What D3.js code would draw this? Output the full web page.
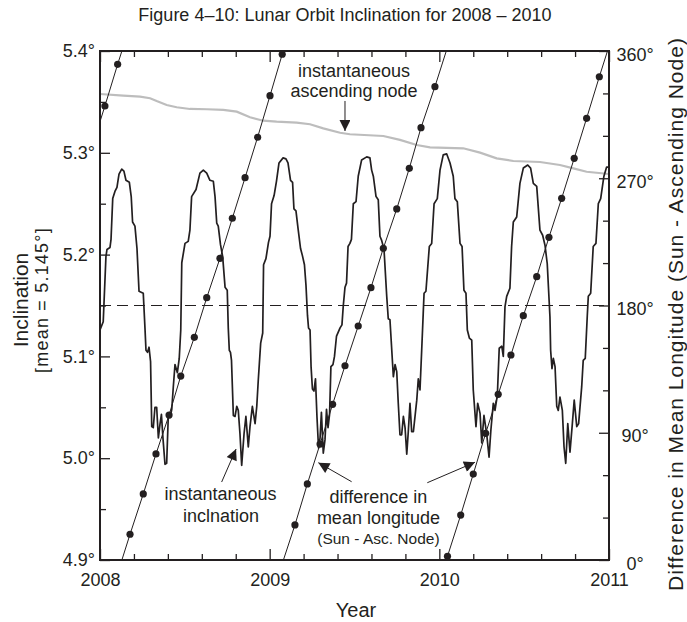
<!DOCTYPE html>
<html>
<head>
<meta charset="utf-8">
<script src="https://cdn.jsdelivr.net/npm/d3@7"></script>
<style>
  body { margin: 0; background: #fff; }
  svg { display: block; font-family: "Liberation Sans", Arial, Helvetica, sans-serif; }
  text { fill: #231f20; }
</style>
</head>
<body>
<svg id="chart" width="687" height="622"></svg>
<script>
// values
const years = [2008, 2009, 2010, 2011];
const inclTicks = [4.9, 5.0, 5.1, 5.2, 5.3, 5.4];
const degTicks = [0, 90, 180, 270, 360];
const meanIncl = 5.15;

// instantaneous inclination [year, deg]
const incl2008 = [
  [2008.000,5.126],[2008.019,5.134],[2008.035,5.198],[2008.041,5.205],[2008.059,5.207],[2008.065,5.215],
  [2008.075,5.255],[2008.088,5.262],[2008.100,5.266],[2008.112,5.279],[2008.128,5.284],[2008.141,5.282],
  [2008.153,5.273],[2008.173,5.271],[2008.184,5.257],[2008.192,5.232],[2008.206,5.228],[2008.218,5.206],
  [2008.230,5.164],[2008.255,5.162],[2008.265,5.128],[2008.271,5.106],[2008.280,5.104],[2008.289,5.109],
  [2008.298,5.095],[2008.305,5.031],[2008.314,5.030],[2008.324,5.050],[2008.334,5.050],[2008.344,5.020],
  [2008.354,5.034],[2008.362,5.043],[2008.371,5.020],[2008.383,4.994],[2008.393,4.995],[2008.403,5.044],
  [2008.413,5.040],[2008.423,5.048],[2008.432,5.070],[2008.442,5.092],[2008.456,5.084],[2008.467,5.098],
  [2008.476,5.126],[2008.482,5.192],[2008.501,5.211],[2008.520,5.213],[2008.530,5.224],[2008.540,5.257],
  [2008.566,5.264],[2008.589,5.280],[2008.609,5.283],[2008.629,5.280],[2008.648,5.273],[2008.668,5.272],
  [2008.678,5.257],[2008.688,5.231],[2008.697,5.228],[2008.710,5.210],[2008.723,5.198],[2008.737,5.168],
  [2008.750,5.165],[2008.756,5.128],[2008.762,5.106],[2008.769,5.104],[2008.775,5.096],[2008.786,5.042],
  [2008.796,5.041],[2008.806,5.051],[2008.815,5.047],[2008.825,5.024],[2008.835,4.993],[2008.849,5.024],
  [2008.860,5.041],[2008.874,5.011],[2008.884,5.031],[2008.898,5.051],[2008.914,5.034],[2008.924,5.051],
  [2008.933,5.077],[2008.947,5.113],[2008.959,5.123],[2008.964,5.190],[2008.978,5.196],[2008.993,5.212]
];
const incl2009 = [
  [2009.002,5.218],[2009.011,5.250],[2009.026,5.258],[2009.040,5.272],[2009.055,5.290],[2009.079,5.295],
  [2009.096,5.294],[2009.108,5.290],[2009.123,5.273],[2009.135,5.271],[2009.143,5.245],[2009.155,5.243],
  [2009.167,5.226],[2009.182,5.206],[2009.193,5.199],[2009.205,5.190],[2009.214,5.170],[2009.223,5.140],
  [2009.229,5.128],[2009.238,5.126],[2009.244,5.090],[2009.252,5.068],[2009.261,5.066],[2009.270,5.078],
  [2009.279,5.040],[2009.288,5.010],[2009.297,5.020],[2009.305,5.045],[2009.316,5.005],[2009.326,5.018],
  [2009.335,5.048],[2009.344,5.030],[2009.353,5.043],[2009.361,5.090],[2009.373,5.092],[2009.382,5.100],
  [2009.394,5.120],[2009.415,5.128],[2009.426,5.131],[2009.434,5.150],[2009.444,5.168],[2009.453,5.172],
  [2009.462,5.208],[2009.473,5.211],[2009.482,5.215],[2009.493,5.250],[2009.509,5.252],[2009.522,5.277],
  [2009.542,5.293],[2009.572,5.296],[2009.591,5.295],[2009.601,5.283],[2009.611,5.277],[2009.627,5.257],
  [2009.640,5.254],[2009.650,5.218],[2009.660,5.214],[2009.674,5.205],[2009.690,5.159],[2009.699,5.137],
  [2009.709,5.136],[2009.729,5.080],[2009.739,5.092],[2009.749,5.085],[2009.758,5.054],[2009.768,5.023],
  [2009.778,5.023],[2009.788,5.041],[2009.798,5.030],[2009.808,5.004],[2009.817,5.026],[2009.827,5.054],
  [2009.837,5.026],[2009.847,5.026],[2009.867,5.057],[2009.876,5.078],[2009.886,5.067],[2009.896,5.106],
  [2009.905,5.142],[2009.910,5.162],[2009.921,5.164],[2009.941,5.208],[2009.955,5.211],[2009.969,5.250],
  [2009.988,5.255]
];
const incl2010 = [
  [2010.004,5.283],[2010.023,5.298],[2010.043,5.299],[2010.063,5.290],[2010.082,5.277],[2010.092,5.255],
  [2010.106,5.252],[2010.122,5.211],[2010.134,5.208],[2010.145,5.165],[2010.157,5.162],[2010.165,5.126],
  [2010.177,5.118],[2010.191,5.116],[2010.200,5.067],[2010.216,5.031],[2010.226,5.054],[2010.240,5.044],
  [2010.250,5.015],[2010.263,5.042],[2010.279,5.024],[2010.293,5.001],[2010.304,5.028],[2010.318,5.054],
  [2010.328,5.047],[2010.342,5.062],[2010.353,5.108],[2010.368,5.110],[2010.377,5.100],[2010.387,5.149],
  [2010.397,5.159],[2010.416,5.167],[2010.426,5.208],[2010.436,5.232],[2010.456,5.237],[2010.475,5.270],
  [2010.495,5.285],[2010.521,5.288],[2010.538,5.285],[2010.554,5.270],[2010.574,5.267],[2010.593,5.224],
  [2010.609,5.219],[2010.623,5.209],[2010.636,5.191],[2010.652,5.139],[2010.656,5.106],[2010.664,5.088],
  [2010.672,5.098],[2010.682,5.090],[2010.692,5.051],[2010.701,5.047],[2010.711,5.060],[2010.725,5.047],
  [2010.735,5.011],[2010.745,4.995],[2010.757,5.034],[2010.770,5.006],[2010.784,5.034],[2010.795,5.057],
  [2010.810,5.031],[2010.821,5.034],[2010.839,5.070],[2010.848,5.096],[2010.860,5.098],[2010.872,5.140],
  [2010.878,5.159],[2010.892,5.162],[2010.907,5.208],[2010.923,5.211],[2010.937,5.250],[2010.951,5.255],
  [2010.970,5.277],[2010.986,5.286],[2011.000,5.286]
];

// instantaneous ascending node, right axis [year, deg]
const nodeLon = [
  [2008.000,329.6],[2008.137,328.4],[2008.236,327.7],[2008.295,326.6],[2008.334,324.6],[2008.393,321.8],
  [2008.452,320.2],[2008.530,319.0],[2008.629,318.8],[2008.727,318.3],[2008.806,317.1],[2008.884,313.1],
  [2008.962,310.7],[2009.041,310.0],[2009.159,309.3],[2009.238,308.2],[2009.316,305.3],[2009.415,302.2],
  [2009.473,301.1],[2009.670,299.9],[2009.768,297.1],[2009.867,293.5],[2009.945,291.9],[2010.141,291.2],
  [2010.240,288.1],[2010.338,284.1],[2010.436,282.2],[2010.593,281.5],[2010.711,279.4],[2010.790,277.0],
  [2010.868,274.6],[2011.000,273.0]
];

// difference in mean longitude (Sun - node), dots [year, deg]
const diffStart = [2008.000, 310.1];
const wrapYears = [2008.129, 2009.081, 2010.041, 2010.991]; // where it passes 360 -> 0
const dotsA = [[2008.029,321.1],[2008.104,350.6]];
const dotsB = [[2008.177,18.2],[2008.255,46.7],[2008.330,75.0],[2008.407,102.5],[2008.476,130.1],[2008.556,157.5],
  [2008.629,185.5],[2008.707,213.4],[2008.780,241.7],[2008.855,270.4],[2008.929,299.0],[2009.002,328.4],[2009.074,357.7]];
const dotsC = [[2009.149,24.8],[2009.222,53.8],[2009.297,82.0],[2009.371,110.1],[2009.444,137.4],[2009.522,165.5],
  [2009.597,192.6],[2009.670,220.5],[2009.749,248.3],[2009.823,277.0],[2009.892,305.8],[2009.974,334.8]];
const dotsD = [[2010.048,2.6],[2010.126,31.8],[2010.200,60.8],[2010.273,89.6],[2010.347,117.2],[2010.422,145.0],
  [2010.495,172.8],[2010.574,200.4],[2010.646,228.2],[2010.721,255.8],[2010.795,284.1],[2010.868,312.4],[2010.943,341.8]];

// annotation text [year, inclination, text, size] and arrows [from, to]
const noteLines = [
  [2009.497, 5.3745, "instantaneous", 18],
  [2009.497, 5.3548, "ascending node", 18],
  [2008.710, 4.9590, "instantaneous", 18],
  [2008.713, 4.9373, "inclnation", 18],
  [2009.641, 4.9560, "difference in", 18],
  [2009.641, 4.9354, "mean longitude", 18],
  [2009.641, 4.9157, "(Sun - Asc. Node)", 15.5]
];
const noteArrows = [
  [[2009.444, 5.3509], [2009.444, 5.3214]],
  [[2008.717, 4.9766], [2008.802, 5.0090]],
  [[2009.483, 4.9769], [2009.287, 4.9956]],
  [[2009.929, 4.9759], [2010.210, 4.9960]]
];

const ink = "#231f20";
const svg = d3.select("#chart");

const x = d3.scaleLinear().domain([2008, 2011]).range([100, 609]);
const yL = d3.scaleLinear().domain([4.9, 5.4]).range([560, 51]);
const yR = d3.scaleLinear().domain([0, 360]).range([560, 51]);

svg.append("defs").append("marker")
    .attr("id", "head")
    .attr("viewBox", "0 0 10 10")
    .attr("refX", 10).attr("refY", 5)
    .attr("markerWidth", 14).attr("markerHeight", 11)
    .attr("markerUnits", "userSpaceOnUse")
    .attr("orient", "auto")
  .append("path")
    .attr("d", "M0,0L10,5L0,10Z")
    .attr("fill", ink);

// node line (grey)
const lineR = d3.line().x(d => x(d[0])).y(d => yR(d[1]));
svg.append("path")
    .datum(nodeLon)
    .attr("d", lineR)
    .attr("fill", "none")
    .attr("stroke", "#bdbdbd")
    .attr("stroke-width", 2.2);

// mean inclination
svg.append("line")
    .attr("x1", x(2008)).attr("x2", x(2011))
    .attr("y1", yL(meanIncl)).attr("y2", yL(meanIncl))
    .attr("stroke", ink)
    .attr("stroke-width", 1.1)
    .attr("stroke-dasharray", "11,6");

// inclination
const lineL = d3.line().x(d => x(d[0])).y(d => yL(d[1]));
svg.append("path")
    .datum(incl2008.concat(incl2009, incl2010))
    .attr("d", lineL)
    .attr("fill", "none")
    .attr("stroke", ink)
    .attr("stroke-width", 1.7)
    .attr("stroke-linejoin", "round");

// difference runs
const runs = [
  [diffStart].concat(dotsA, [[wrapYears[0], 360]]),
  [[wrapYears[0], 0]].concat(dotsB, [[wrapYears[1], 360]]),
  [[wrapYears[1], 0]].concat(dotsC, [[wrapYears[2], 360]]),
  [[wrapYears[2], 0]].concat(dotsD, [[wrapYears[3], 360]])
];
svg.selectAll(".run")
  .data(runs)
  .enter().append("path")
    .attr("class", "run")
    .attr("d", lineR)
    .attr("fill", "none")
    .attr("stroke", ink)
    .attr("stroke-width", 1);

svg.selectAll(".dot")
  .data(dotsA.concat(dotsB, dotsC, dotsD))
  .enter().append("circle")
    .attr("class", "dot")
    .attr("cx", d => x(d[0]))
    .attr("cy", d => yR(d[1]))
    .attr("r", 3.6)
    .attr("fill", ink);

// axes
function styleAxis(g) {
  g.select(".domain").remove();
  g.attr("font-family", null).attr("font-size", 18);
  g.selectAll(".tick line").attr("stroke", ink).attr("stroke-width", 1.3);
  g.selectAll(".tick text").attr("fill", ink);
}
const minorIncl = d3.range(4.9, 5.41, 0.05).filter(v => Math.round(v * 100) % 10 !== 0);
const minorYear = d3.range(2008, 2011.01, 0.2).filter(v => Math.abs(v - Math.round(v)) > 0.01);
const minorDeg = d3.range(0, 361, 30).filter(v => v % 90 !== 0);

svg.append("g").attr("transform", "translate(100,0)")
    .call(d3.axisLeft(yL).tickValues(inclTicks).tickSize(-10).tickPadding(5).tickFormat(d => d.toFixed(1) + "°"))
    .call(styleAxis);
svg.append("g").attr("transform", "translate(100,0)")
    .call(d3.axisLeft(yL).tickValues(minorIncl).tickSize(-6).tickFormat(""))
    .call(styleAxis);

svg.append("g").attr("transform", "translate(609,0)")
    .call(d3.axisRight(yR).tickValues(degTicks).tickSize(-10).tickFormat(d => d + "°"))
    .call(styleAxis)
    .call(g => g.selectAll(".tick text").attr("x", 26).attr("dy", "0.5em").attr("text-anchor", "middle"));
svg.append("g").attr("transform", "translate(609,0)")
    .call(d3.axisRight(yR).tickValues(minorDeg).tickSize(-6).tickFormat(""))
    .call(styleAxis);

svg.append("g").attr("transform", "translate(0,560)")
    .call(d3.axisBottom(x).tickValues(years).tickSize(-11).tickPadding(13).tickFormat(d3.format("d")))
    .call(styleAxis);
svg.append("g").attr("transform", "translate(0,560)")
    .call(d3.axisBottom(x).tickValues(minorYear).tickSize(-6).tickFormat(""))
    .call(styleAxis);
svg.append("g").attr("transform", "translate(0,51)")
    .call(d3.axisTop(x).tickValues(years).tickSize(-11).tickFormat(""))
    .call(styleAxis);
svg.append("g").attr("transform", "translate(0,51)")
    .call(d3.axisTop(x).tickValues(minorYear).tickSize(-6).tickFormat(""))
    .call(styleAxis);

// frame
svg.append("rect")
    .attr("x", x(2008)).attr("y", yL(5.4))
    .attr("width", x(2011) - x(2008)).attr("height", yL(4.9) - yL(5.4))
    .attr("fill", "none")
    .attr("stroke", ink)
    .attr("stroke-width", 2);

// annotations
svg.selectAll(".note")
  .data(noteLines)
  .enter().append("text")
    .attr("class", "note")
    .attr("x", d => x(d[0]))
    .attr("y", d => yL(d[1]))
    .attr("text-anchor", "middle")
    .attr("font-size", d => d[3])
    .text(d => d[2]);

svg.selectAll(".arrow")
  .data(noteArrows)
  .enter().append("line")
    .attr("class", "arrow")
    .attr("x1", d => x(d[0][0])).attr("y1", d => yL(d[0][1]))
    .attr("x2", d => x(d[1][0])).attr("y2", d => yL(d[1][1]))
    .attr("stroke", ink)
    .attr("stroke-width", 1)
    .attr("marker-end", "url(#head)");

// titles
svg.append("text")
    .attr("x", 345).attr("y", 21)
    .attr("text-anchor", "middle")
    .attr("font-size", 18)
    .text("Figure 4–10: Lunar Orbit Inclination for 2008 – 2010");

svg.append("text")
    .attr("x", 356).attr("y", 617)
    .attr("text-anchor", "middle")
    .attr("font-size", 20)
    .text("Year");

svg.append("text")
    .attr("transform", "translate(28,300) rotate(-90)")
    .attr("text-anchor", "middle")
    .attr("font-size", 21)
    .text("Inclination");

svg.append("text")
    .attr("transform", "translate(48,300) rotate(-90)")
    .attr("text-anchor", "middle")
    .attr("font-size", 18)
    .attr("letter-spacing", 1.2)
    .text("[mean = 5.145°]");

svg.append("text")
    .attr("transform", "translate(683,314) rotate(-90)")
    .attr("text-anchor", "middle")
    .attr("font-size", 21)
    .attr("letter-spacing", 1)
    .text("Difference in Mean Longitude (Sun - Ascending Node)");
</script>
</body>
</html>
